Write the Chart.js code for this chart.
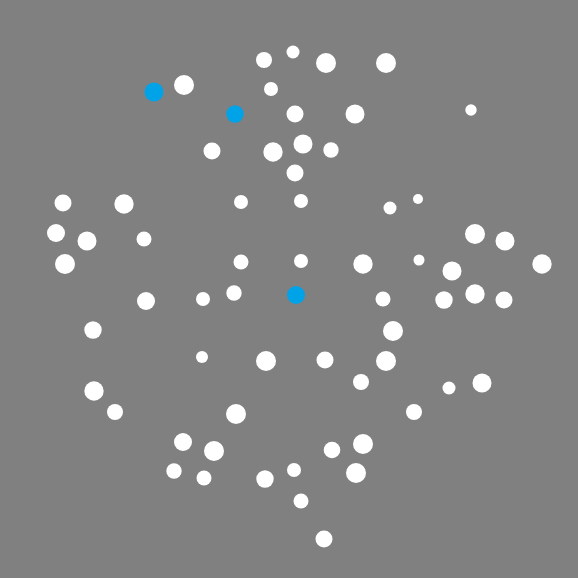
<!DOCTYPE html>
<html>
<head>
<meta charset="utf-8">
<script src="https://cdn.jsdelivr.net/npm/chart.js@4/dist/chart.umd.min.js"></script>
<style>
  html, body { margin: 0; padding: 0; background: #808080; }
  #wrap { width: 578px; height: 578px; }
</style>
</head>
<body>
<div id="wrap"><canvas id="c" width="578" height="578"></canvas></div>
<script>
// White series
const whiteX = [264,293,184,271,212,273,63,124,241,56,87,144,65,241,326,386,295,355,471,303,331,295,301,390,418,475,505,301,363,419,452,542,146,203,234,93,202,266,94,115,236,183,214,174,204,265,294,383,444,475,504,393,325,386,361,449,482,414,332,363,356,301,324];
const whiteY = [60,52,85,89,151,152,203,204,202,233,241,239,264,262,63,63,114,114,110,144,150,173,201,208,199,234,241,261,264,260,271,264,301,299,293,330,357,361,391,412,414,442,451,471,478,479,470,299,300,294,300,331,360,361,382,388,383,412,450,444,473,501,539];
const whiteR = [8,6.5,10,7,8.5,9.7,8.5,9.7,7,9,9.5,7.5,10,7.5,10,10,8.5,9.5,5.7,9.5,7.7,8.5,7,6.5,5,10,9.5,7,9.7,5.5,9.5,9.7,9,7,7.7,8.7,6,10,9.7,8,10,9,10,7.7,7.5,8.7,7,7.5,8.7,9.7,8.5,10,8.5,10,8,6.5,9.5,8,8.3,10,10,7.5,8.5];
// Blue (highlighted) series
const blueX = [154,235,296];
const blueY = [92,114,295];
const blueR = [9.5,8.7,9];

// Axis range (the bubble controller reserves the largest radius as overflow)
const axisMin = 10;
const axisMax = 568;

const toPoints = (xs, ys, rs) => xs.map((x, i) => ({ x: x, y: ys[i], r: rs[i] }));

new Chart(document.getElementById('c'), {
  type: 'bubble',
  data: {
    datasets: [
      { data: toPoints(whiteX, whiteY, whiteR), backgroundColor: '#ffffff', borderWidth: 0, hoverBorderWidth: 0, clip: false },
      { data: toPoints(blueX, blueY, blueR), backgroundColor: '#00a2e8', borderWidth: 0, hoverBorderWidth: 0, clip: false }
    ]
  },
  options: {
    responsive: false,
    devicePixelRatio: 1,
    animation: false,
    layout: { padding: 0 },
    plugins: { legend: { display: false }, tooltip: { enabled: false } },
    scales: {
      x: { type: 'linear', min: axisMin, max: axisMax, display: false },
      y: { type: 'linear', min: axisMin, max: axisMax, reverse: true, display: false }
    }
  }
});
</script>
</body>
</html>
